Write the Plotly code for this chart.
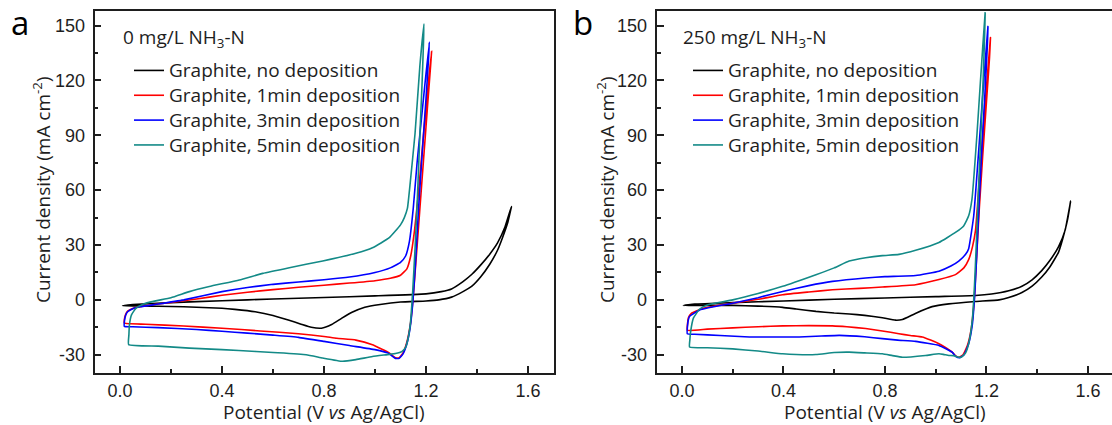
import plotly.graph_objects as go

# ---------------- data (potential V vs Ag/AgCl, current density mA cm-2) ----------------
series_names = ["Graphite, no deposition", "Graphite, 1min deposition",
                "Graphite, 3min deposition", "Graphite, 5min deposition"]

# Panel a : 0 mg/L NH3-N
a_black_v = [0.01, 0.05, 0.2, 0.4, 0.6, 0.8, 1.0, 1.2, 1.26, 1.3, 1.345, 1.38, 1.414, 1.45, 1.48, 1.51, 1.535,
             1.52, 1.5, 1.48, 1.45, 1.414, 1.38, 1.345, 1.3, 1.25, 1.2, 1.1, 1.02, 0.96, 0.91, 0.87, 0.83, 0.79,
             0.75, 0.71, 0.66, 0.6, 0.53, 0.45, 0.4, 0.3, 0.2, 0.1, 0.01]
a_black_j = [-3.2, -2.6, -1.5, -0.5, 0.5, 1.3, 2.2, 3.3, 4.5, 6.0, 10.0, 14.0, 19.0, 25.0, 31.0, 40.0, 51.0,
             42.0, 34.0, 27.0, 19.5, 12.5, 7.5, 4.5, 1.5, 0.0, -0.6, -1.2, -2.5, -4.0, -6.8, -10.0, -13.5, -15.5,
             -15.0, -13.3, -11.0, -8.5, -6.5, -5.2, -4.6, -4.0, -3.6, -3.4, -3.2]

a_red_v = [0.017, 0.018, 0.022, 0.03, 0.05, 0.08, 0.15, 0.2, 0.3, 0.4, 0.5, 0.6, 0.7, 0.8, 0.9, 1.0, 1.06, 1.1,
           1.125, 1.14, 1.155, 1.17, 1.19, 1.21, 1.222,
           1.218, 1.205, 1.19, 1.175, 1.16, 1.15, 1.14, 1.125, 1.11, 1.095, 1.08, 1.056, 1.02, 0.99, 0.925, 0.85,
           0.8, 0.7, 0.55, 0.4, 0.25, 0.1, 0.017]
a_red_j = [-12.7, -10.0, -8.0, -6.2, -4.7, -3.7, -2.3, -1.4, 0.5, 2.5, 4.2, 5.6, 6.9, 8.0, 9.2, 10.5, 11.8, 13.5,
           17.0, 24.0, 38.0, 58.0, 90.0, 120.0, 136.0,
           128.0, 104.0, 76.0, 48.0, 20.0, 2.0, -12.0, -23.0, -29.0, -31.6, -31.6, -29.0, -26.5, -24.5, -22.0, -21.0,
           -20.0, -18.5, -17.0, -15.5, -14.3, -13.3, -12.7]

a_blue_v = [0.017, 0.018, 0.022, 0.03, 0.05, 0.08, 0.15, 0.25, 0.4, 0.5, 0.6, 0.7, 0.8, 0.9, 1.0, 1.06, 1.1, 1.12,
            1.135, 1.15, 1.165, 1.19, 1.213,
            1.21, 1.2, 1.185, 1.17, 1.158, 1.148, 1.138, 1.125, 1.11, 1.095, 1.08, 1.065, 1.05, 1.0, 0.9, 0.8,
            0.7, 0.6, 0.5, 0.4, 0.3, 0.15, 0.05, 0.017]
a_blue_j = [-14.5, -11.0, -8.5, -6.5, -4.8, -3.8, -2.3, 0.0, 4.5, 6.8, 8.5, 9.8, 11.0, 12.5, 15.0, 17.5, 20.5, 24.0,
            32.0, 50.0, 75.0, 110.0, 141.0,
            132.0, 110.0, 80.0, 48.0, 18.0, -2.0, -15.0, -24.0, -29.5, -32.0, -32.0, -30.5, -29.0, -27.2, -25.0, -22.7,
            -20.5, -19.3, -18.2, -17.2, -16.2, -15.2, -14.7, -14.5]

a_teal_v = [0.034, 0.035, 0.037, 0.045, 0.063, 0.1, 0.2, 0.272, 0.35, 0.468, 0.56, 0.664, 0.795, 0.925, 0.99,
            1.056, 1.1, 1.115, 1.127, 1.137, 1.157, 1.176, 1.192,
            1.19, 1.185, 1.176, 1.166, 1.157, 1.148, 1.138, 1.13, 1.12, 1.105, 1.08, 1.056, 0.99, 0.925, 0.873,
            0.795, 0.73, 0.6, 0.533, 0.4, 0.272, 0.15, 0.034]
a_teal_j = [-24.5, -19.0, -13.6, -8.2, -4.5, -1.8, 1.2, 4.5, 7.3, 10.9, 14.5, 17.6, 21.3, 25.5, 28.5,
            34.0, 41.0, 45.0, 50.0, 62.5, 91.0, 128.0, 151.0,
            140.0, 120.0, 90.0, 55.0, 28.0, 5.0, -14.0, -21.0, -26.0, -28.3, -29.3, -29.8, -31.0, -32.7, -33.6,
            -31.8, -30.0, -28.8, -28.2, -27.2, -26.4, -25.3, -24.5]

# Panel b : 250 mg/L NH3-N
b_black_v = [0.005, 0.05, 0.2, 0.4, 0.6, 0.8, 1.0, 1.157, 1.22, 1.288, 1.34, 1.38, 1.418, 1.45, 1.484, 1.51, 1.532,
             1.52, 1.5, 1.484, 1.45, 1.418, 1.38, 1.34, 1.288, 1.25, 1.157, 1.052, 0.986, 0.92, 0.869, 0.842, 0.79,
             0.72, 0.66, 0.6, 0.528, 0.45, 0.397, 0.3, 0.2, 0.1, 0.005]
b_black_j = [-3.1, -2.3, -1.5, -0.6, 0.3, 1.0, 1.8, 2.4, 3.2, 5.0, 7.5, 11.0, 16.0, 21.5, 29.0, 38.0, 54.0,
             44.0, 33.0, 26.0, 18.0, 12.5, 7.5, 4.0, 1.3, 0.0, -0.9, -2.2, -3.7, -7.4, -10.7, -11.1, -9.8,
             -8.5, -7.7, -7.2, -6.3, -5.0, -4.1, -3.4, -3.0, -3.0, -3.1]

b_red_v = [0.021, 0.022, 0.025, 0.037, 0.083, 0.2, 0.3, 0.397, 0.5, 0.593, 0.7, 0.79, 0.921, 1.013, 1.078, 1.111,
           1.13, 1.145, 1.157, 1.176, 1.196, 1.216,
           1.212, 1.2, 1.185, 1.172, 1.16, 1.152, 1.14, 1.125, 1.108, 1.092, 1.078, 1.065, 1.04, 1.013, 0.98, 0.947,
           0.9, 0.855, 0.79, 0.724, 0.65, 0.593, 0.5, 0.397, 0.3, 0.2, 0.1, 0.021]
b_red_j = [-16.6, -13.0, -10.0, -7.4, -4.6, -1.8, 0.3, 2.8, 4.3, 5.5, 6.3, 7.0, 8.3, 11.1, 13.8, 17.5,
           22.0, 29.0, 38.0, 73.0, 109.0, 143.5,
           132.0, 108.0, 78.0, 50.0, 20.0, 0.0, -16.0, -25.0, -30.0, -31.4, -30.5, -28.6, -26.2, -24.0, -22.0, -20.3,
           -19.5, -18.5, -17.0, -15.7, -14.7, -14.2, -14.1, -14.2, -14.7, -15.3, -16.0, -16.6]

b_blue_v = [0.021, 0.022, 0.025, 0.03, 0.07, 0.2, 0.3, 0.397, 0.5, 0.593, 0.724, 0.8, 0.921, 1.013, 1.06, 1.091,
            1.118, 1.13, 1.15, 1.17, 1.189, 1.206,
            1.204, 1.195, 1.183, 1.172, 1.162, 1.154, 1.144, 1.13, 1.112, 1.095, 1.08, 1.065, 1.013, 0.921, 0.85,
            0.79, 0.72, 0.62, 0.55, 0.462, 0.35, 0.266, 0.15, 0.05, 0.021]
b_blue_j = [-18.5, -14.0, -11.0, -9.0, -5.5, -1.8, 1.2, 4.6, 7.8, 10.1, 12.0, 12.7, 13.3, 15.7, 18.5, 21.2,
            24.9, 28.0, 46.0, 82.5, 118.6, 149.5,
            140.0, 115.0, 85.0, 55.0, 25.0, 3.0, -14.0, -24.0, -30.0, -31.6, -31.0, -28.6, -24.9, -22.7, -22.0,
            -21.2, -20.2, -19.4, -19.8, -20.3, -20.3, -20.3, -19.5, -18.8, -18.5]

b_teal_v = [0.03, 0.031, 0.034, 0.045, 0.07, 0.1, 0.2, 0.3, 0.397, 0.528, 0.6, 0.659, 0.724, 0.79, 0.855, 0.921,
            1.013, 1.078, 1.111, 1.13, 1.143, 1.163, 1.176, 1.195,
            1.193, 1.187, 1.178, 1.168, 1.16, 1.153, 1.145, 1.133, 1.118, 1.1, 1.091, 1.07, 1.052, 1.03, 1.013,
            0.96, 0.869, 0.83, 0.79, 0.72, 0.659, 0.6, 0.528, 0.45, 0.397, 0.3, 0.2, 0.1, 0.03]
b_teal_j = [-25.8, -22.0, -17.5, -10.0, -5.0, -2.8, 0.0, 3.5, 7.4, 13.8, 17.5, 21.2, 23.0, 24.2, 24.9, 27.1,
            31.4, 36.9, 40.6, 46.0, 55.0, 91.0, 118.6, 157.0,
            145.0, 120.0, 90.0, 58.0, 30.0, 8.0, -10.0, -22.0, -29.0, -31.4, -31.4, -30.5, -30.4, -29.8, -29.5,
            -30.4, -31.4, -30.5, -29.5, -29.0, -28.6, -28.8, -29.9, -29.9, -29.5, -28.0, -26.8, -26.2, -25.8]

x_ticks = [0.0, 0.4, 0.8, 1.2, 1.6]
x_tick_labels = ["0.0", "0.4", "0.8", "1.2", "1.6"]
y_ticks = [-30, 0, 30, 60, 90, 120, 150]
y_tick_labels = ["-30", "0", "30", "60", "90", "120", "150"]
x_minor = [0.2, 0.6, 1.0, 1.4]
y_minor = [-15, 15, 45, 75, 105, 135]

panel_titles = ["0 mg/L NH<sub>3</sub>-N", "250 mg/L NH<sub>3</sub>-N"]
panel_letters = ["a", "b"]

# ---------------- figure ----------------
W, H = 1112, 425
colors = ["#000000", "#ff0000", "#0000ff", "#138a87"]
TXT = "Open Sans"
TICKF = "Liberation Sans"
INK = "#1e1e1e"
TXT_SIZE = 19

panels = [
    [(a_black_v, a_black_j), (a_red_v, a_red_j), (a_blue_v, a_blue_j), (a_teal_v, a_teal_j)],
    [(b_black_v, b_black_j), (b_red_v, b_red_j), (b_blue_v, b_blue_j), (b_teal_v, b_teal_j)],
]


def big(s):
    return '<span style="font-size:%dpx">%s</span>' % (TXT_SIZE, s)


fig = go.Figure()
for p, series in enumerate(panels):
    for i, (v, j) in enumerate(series):
        fig.add_trace(go.Scatter(
            x=v, y=j, mode="lines", name=big(series_names[i]),
            line=dict(color=colors[i], width=1.6, shape="spline", smoothing=0.4),
            xaxis="x" if p == 0 else "x2", yaxis="y" if p == 0 else "y2",
            legend="legend" if p == 0 else "legend2", hoverinfo="skip"))


def px(x):
    return x / W


def py(y):
    return 1 - y / H


def xax(domain, rng, anchor, mirror=True):
    return dict(domain=domain, range=rng, anchor=anchor, tickmode="array", tickvals=x_ticks,
                ticktext=x_tick_labels, ticks="inside", ticklen=7, tickwidth=1.5, tickcolor=INK,
                showline=True, linewidth=1.8, linecolor=INK, mirror=mirror, showgrid=False, zeroline=False,
                tickfont=dict(family=TICKF, size=18, color=INK), ticklabelstandoff=0,
                minor=dict(tickmode="array", tickvals=x_minor, ticks="inside", ticklen=4, tickwidth=1.5,
                           tickcolor=INK, showgrid=False))


def yax(domain, rng, anchor, mirror=True):
    return dict(domain=domain, range=rng, anchor=anchor, tickmode="array", tickvals=y_ticks,
                ticktext=y_tick_labels, ticks="inside", ticklen=7, tickwidth=1.5, tickcolor=INK,
                showline=True, linewidth=1.8, linecolor=INK, mirror=mirror, showgrid=False, zeroline=False,
                tickfont=dict(family=TICKF, size=18, color=INK), ticklabelstandoff=4,
                minor=dict(tickmode="array", tickvals=y_minor, ticks="inside", ticklen=4, tickwidth=1.5,
                           tickcolor=INK, showgrid=False))


ydom = [py(373), py(11)]
legend_common = dict(xanchor="left", yanchor="top", bgcolor="rgba(0,0,0,0)",
                     font=dict(family=TXT, size=16.8, color=INK), tracegroupgap=0)
fig.update_layout(
    width=W, height=H, margin=dict(l=0, r=0, t=0, b=0),
    paper_bgcolor="white", plot_bgcolor="white",
    xaxis=xax([px(94.5), px(553.5)], [-0.1, 1.7], "y"),
    yaxis=yax(ydom, [-40, 158], "x"),
    xaxis2=xax([px(656.6), 1.0], [-0.1, 1.695], "y2"),
    yaxis2=yax(ydom, [-40, 158], "x2", mirror=False),
    legend=dict(x=px(129), y=py(53), **legend_common),
    legend2=dict(x=px(688), y=py(53), **legend_common),
    showlegend=True,
)

annotations = []
for k, (title_x, ytitle_x, xtitle_c) in enumerate([(121, 42, 324), (681, 606, 885)]):
    annotations.append(dict(text=panel_titles[k], x=px(title_x), y=py(38), xref="paper", yref="paper",
                            xanchor="left", yanchor="middle", showarrow=False,
                            font=dict(family=TXT, size=TXT_SIZE, color=INK)))
    annotations.append(dict(text="Current density (mA cm<sup>-2</sup>)", x=px(ytitle_x), y=py(190),
                            xref="paper", yref="paper", xanchor="center", yanchor="middle", textangle=-90,
                            showarrow=False, font=dict(family=TXT, size=TXT_SIZE, color=INK)))
    annotations.append(dict(text="Potential (V <i>vs</i> Ag/AgCl)", x=px(xtitle_c), y=py(412),
                            xref="paper", yref="paper", xanchor="center", yanchor="middle",
                            showarrow=False, font=dict(family=TXT, size=TXT_SIZE, color=INK)))
for k, lx in enumerate([20, 583]):
    annotations.append(dict(text=panel_letters[k], x=px(lx), y=py(22.5), xref="paper", yref="paper",
                            xanchor="center", yanchor="middle", showarrow=False,
                            font=dict(family=TXT, size=33, color="#000")))
fig.update_layout(annotations=annotations)

fig.write_html("out.html", config={"displayModeBar": False},
               post_script="document.body.style.margin='0px';document.body.style.padding='0px';"
                           "document.body.style.overflow='hidden';")
